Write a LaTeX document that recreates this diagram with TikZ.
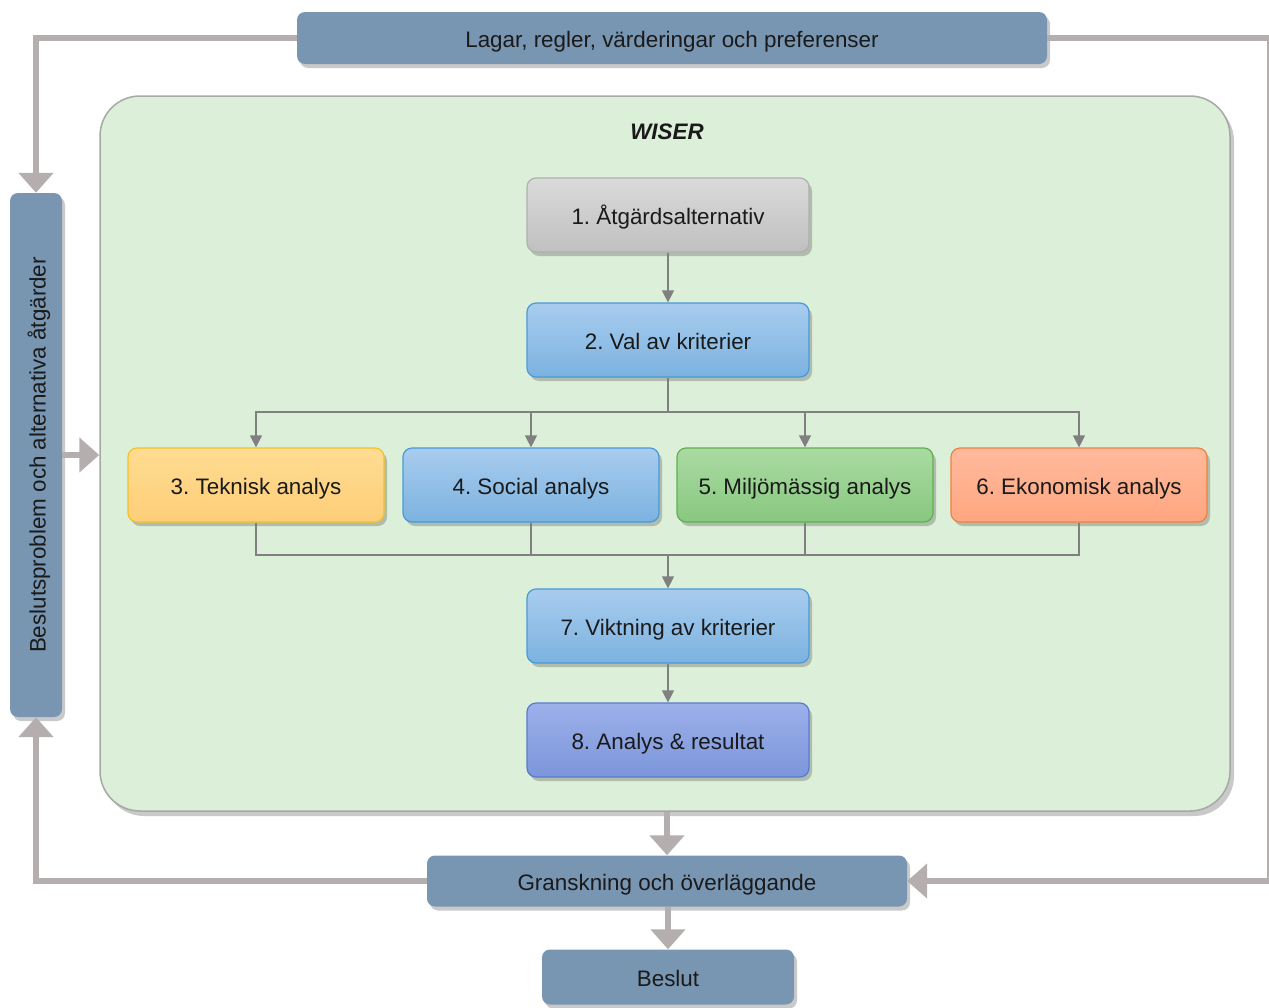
\documentclass[tikz,border=0pt]{standalone}
\usepackage{fontspec}
\setmainfont{Liberation Sans}
\usetikzlibrary{arrows.meta,shadows,calc}
\frenchspacing

\definecolor{steel}{RGB}{120,150,178}
\definecolor{flow}{RGB}{180,174,174}
\definecolor{link}{RGB}{128,128,128}
\definecolor{panel}{RGB}{220,239,216}
\definecolor{panelrim}{RGB}{168,168,168}
\definecolor{ink}{RGB}{26,26,26}

\tikzset{
  boxshadow/.style={drop shadow={shadow xshift=3pt,shadow yshift=-4pt,opacity=0.3,fill=black!70}},
  labelfont/.style={font=\fontsize{22.4}{26}\selectfont,text height=19pt,text depth=0pt},
  outerbox/.style={rounded corners=8pt,fill=steel,draw=none,inner sep=0pt,
    text=ink,labelfont,boxshadow},
  stepbox/.style={rounded corners=9pt,inner sep=0pt,minimum width=282pt,minimum height=74pt,
    line width=1.2pt,text=ink,labelfont,boxshadow},
  rowbox/.style={stepbox,minimum width=256pt},
  greybox/.style={top color={rgb,255:red,218;green,218;blue,218},bottom color={rgb,255:red,192;green,192;blue,192},draw={rgb,255:red,176;green,176;blue,176}},
  bluebox/.style={top color={rgb,255:red,168;green,204;blue,238},bottom color={rgb,255:red,124;green,178;blue,224},draw={rgb,255:red,72;green,154;blue,216}},
  yellowbox/.style={top color={rgb,255:red,255;green,220;blue,146},bottom color={rgb,255:red,253;green,206;blue,120},draw={rgb,255:red,245;green,192;blue,40}},
  greenbox/.style={top color={rgb,255:red,170;green,218;blue,162},bottom color={rgb,255:red,136;green,200;blue,128},draw={rgb,255:red,96;green,176;blue,80}},
  salmonbox/.style={top color={rgb,255:red,255;green,186;blue,156},bottom color={rgb,255:red,255;green,166;blue,128},draw={rgb,255:red,240;green,128;blue,64}},
  violetbox/.style={top color={rgb,255:red,156;green,176;blue,234},bottom color={rgb,255:red,124;green,150;blue,218},draw={rgb,255:red,90;green,122;blue,208}},
  thinlink/.style={draw=link,line width=1.2pt,-{Triangle[width=12pt,length=12pt]}},
  plainlink/.style={draw=link,line width=1.2pt},
  bigflow/.style={draw=flow,line width=6pt,-{Triangle[width=34pt,length=20pt]}},
}

\begin{document}
\begin{tikzpicture}[x=1pt,y=-1pt]
\useasboundingbox (0,0) rectangle (1269,1007);
\clip (0,0) rectangle (1269,1007);

% outer frame of the process
\node[outerbox,minimum width=750pt,minimum height=52pt] (laws) at (672,38) {Lagar, regler, värderingar och preferenser};
\node[outerbox,minimum width=52pt,minimum height=524pt] (problem) at (36,455) {};
\node[rotate=90,text=ink,labelfont] (problemtext) at (problem.center) {Beslutsproblem och alternativa åtgärder};
\node[outerbox,minimum width=480pt,minimum height=51pt] (review) at (667,881) {Granskning och överläggande};
\node[outerbox,minimum width=252pt,minimum height=55pt] (decision) at (668,977) {Beslut};

% WISER panel
\node[draw=panelrim,line width=1.5pt,fill=panel,rounded corners=40pt,minimum width=1130pt,minimum height=715pt,inner sep=0pt,
  drop shadow={shadow xshift=4pt,shadow yshift=-5pt,opacity=0.3,fill=black!70}] (wiser) at (665,453.5) {};
\node[font=\fontsize{22.4}{26}\selectfont\bfseries\itshape,text=ink,text height=19pt,text depth=0pt] (wisertitle) at (667,130) {WISER};

% steps
\node[stepbox,greybox] (b1) at (668,215) {1. Åtgärdsalternativ};
\node[stepbox,bluebox] (b2) at (668,340) {2. Val av kriterier};
\node[rowbox,yellowbox] (b3) at (256,485) {3. Teknisk analys};
\node[rowbox,bluebox] (b4) at (531,485) {4. Social analys};
\node[rowbox,greenbox] (b5) at (805,485) {5. Miljömässig analys};
\node[rowbox,salmonbox] (b6) at (1079,485) {6. Ekonomisk analys};
\node[stepbox,bluebox] (b7) at (668,626) {7. Viktning av kriterier};
\node[stepbox,violetbox] (b8) at (668,740) {8. Analys \& resultat};

% thin connectors inside the panel
\coordinate (split) at (668,412);
\coordinate (merge) at (668,555);
\draw[thinlink] (b1) -- (b2);
\draw[plainlink] (b2.south) -- (split);
\draw[thinlink] (split) -| (b3.north);
\draw[thinlink] (split) -| (b4.north);
\draw[thinlink] (split) -| (b5.north);
\draw[thinlink] (split) -| (b6.north);
\draw[plainlink] (b3.south) |- (merge);
\draw[plainlink] (b4.south) |- (merge);
\draw[plainlink] (b5.south) |- (merge);
\draw[plainlink] (b6.south) |- (merge);
\draw[thinlink] (merge) -- (b7.north);
\draw[thinlink] (b7) -- (b8);

% thick feedback flows
\coordinate (rightturn) at (1270,38);
\draw[bigflow] (laws.west) -| (problem.north);
\draw[bigflow] (laws.east) -- (rightturn) |- (review.east);
\draw[bigflow] (review.west) -| (problem.south);
\draw[bigflow] (problem.east) -- (problem.east -| wiser.west);
\draw[bigflow] (review.north |- wiser.south) -- (review.north);
\draw[bigflow] (review.south -| decision.north) -- (decision.north);
\end{tikzpicture}
\end{document}
